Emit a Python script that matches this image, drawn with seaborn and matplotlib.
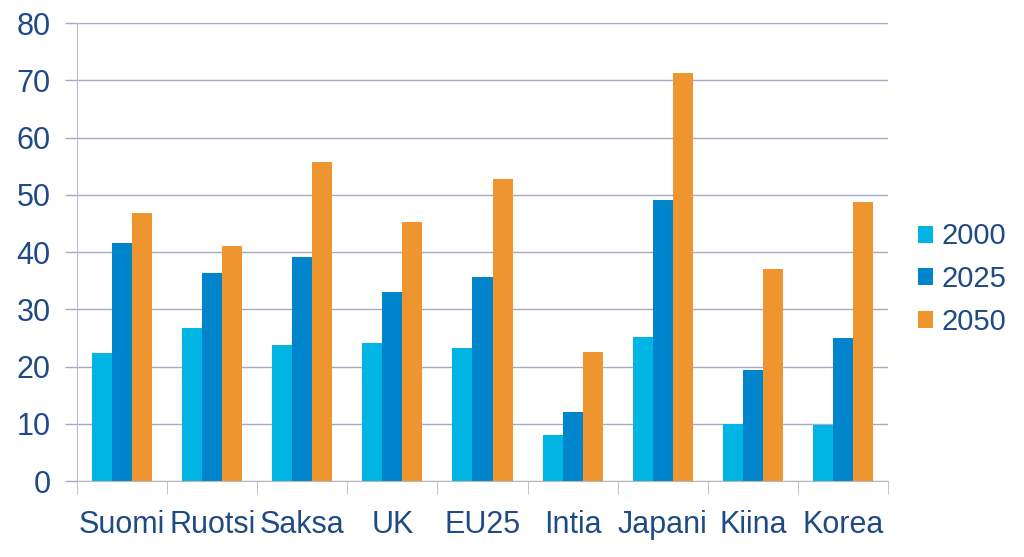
import pandas as pd
import numpy as np
import matplotlib.pyplot as plt
import seaborn as sns
from matplotlib.patches import Patch

sns.set_style("white")
plt.rcParams['font.family'] = ['Liberation Sans', 'DejaVu Sans']

#dados
maat = ["Suomi", "Ruotsi", "Saksa", "UK", "EU25", "Intia", "Japani", "Kiina", "Korea"]
vuodet = ["2000", "2025", "2050"]
v2000 = [22.3, 26.7, 23.8, 24.1, 23.2, 8.1, 25.2, 10.0, 9.8]
v2025 = [41.5, 36.4, 39.2, 33.0, 35.6, 12.0, 49.1, 19.4, 25.0]
v2050 = [46.8, 41.0, 55.7, 45.3, 52.8, 22.6, 71.2, 37.0, 48.8]

df = pd.DataFrame({
    "maa": maat * 3,
    "vuosi": [vuodet[0]] * 9 + [vuodet[1]] * 9 + [vuodet[2]] * 9,
    "arvo": v2000 + v2025 + v2050,
})

varit = ["#00B4E4", "#0084CC", "#EE9530"]
teksti = "#1F4A85"

fig = plt.figure(figsize=(10.24, 5.57), dpi=100)
ax = fig.add_axes([0.0752, 0.1364, 0.7920, 0.8223])

sns.barplot(data=df, x="maa", y="arvo", hue="vuosi", palette=varit,
            width=0.667, saturation=1, linewidth=0, ax=ax, legend=False)

ax.set_ylim(0, 80)
ax.set_xlim(-0.5, len(maat) - 0.5)
ax.set_yticks(np.arange(0, 81, 10))
ax.yaxis.grid(True, color="#A3A9C6", linewidth=1)
ax.set_axisbelow(True)
ax.set_xlabel("")
ax.set_ylabel("")

#Akselit
for s in ["top", "right"]:
    ax.spines[s].set_visible(False)
ax.spines["left"].set_color("#B4BAD2")
ax.spines["bottom"].set_color("#B8B8B8")
ax.tick_params(axis="y", colors="#A3A9C6", labelcolor=teksti, labelsize=22,
               length=9, width=1, pad=10, left=True)
ax.tick_params(axis="x", which="major", length=0, labelcolor=teksti, labelsize=22, pad=21)
ax.set_xticks(np.arange(-0.5, len(maat)), minor=True)
ax.tick_params(axis="x", which="minor", length=9, color="#B8B8B8", bottom=True)

#Selite
kahvat = [Patch(facecolor=c, edgecolor="none") for c in varit]
leg = fig.legend(kahvat, vuodet, loc="center left", bbox_to_anchor=(0.8965, 0.499),
                 frameon=False, fontsize=21, handlelength=0.52, handleheight=0.52,
                 handletextpad=0.28, labelspacing=0.5, borderpad=0, borderaxespad=0,
                 labelcolor=teksti)

fig.savefig("out.png", dpi=100)
